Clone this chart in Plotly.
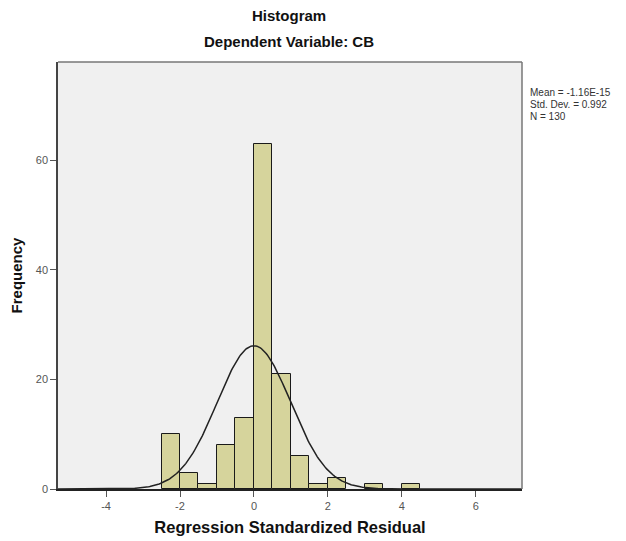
import numpy as np
import plotly.graph_objects as go

# ---- data ----
bin_left = [-2.5, -2.0, -1.5, -1.0, -0.5, 0.0, 0.5, 1.0, 1.5, 2.0, 3.0, 4.0]
counts = [10, 3, 1, 8, 13, 63, 21, 6, 1, 2, 1, 1]
bin_width = 0.5
mean_val = -1.16e-15
std_val = 0.992
n_val = 130
x_ticks = [-4, -2, 0, 2, 4, 6]
y_ticks = [0, 20, 40, 60]
stats_lines = ["Mean = -1.16E-15", "Std. Dev. = 0.992", "N = 130"]

x_range = [-5.3, 7.25]
y_range = [0, 77.9]

centers = [b + bin_width / 2 for b in bin_left]

# normal curve implied by mean / sd / N
xc = np.linspace(x_range[0], x_range[1], 400)
yc = n_val * bin_width / (std_val * np.sqrt(2 * np.pi)) * np.exp(-0.5 * ((xc - mean_val) / std_val) ** 2)

fig = go.Figure()
fig.add_trace(go.Bar(
    x=centers, y=counts, width=bin_width,
    marker=dict(color="#d6d49c", line=dict(color="#1a1a1a", width=1)),
    hoverinfo="skip", showlegend=False,
))
fig.add_trace(go.Scatter(
    x=xc, y=yc, mode="lines",
    line=dict(color="#222222", width=1.5),
    hoverinfo="skip", showlegend=False,
))

font_family = "Liberation Sans, Arial, sans-serif"

# page has an 8px body margin, so offsets are reduced by 8
PL, PT, PW, PH = 50, 54, 464, 427

fig.update_layout(
    width=618, height=533,
    margin=dict(l=PL, r=618 - PL - PW, t=PT, b=533 - PT - PH, autoexpand=False),
    paper_bgcolor="white",
    plot_bgcolor="#f0f0f0",
    bargap=0,
    font=dict(family=font_family, color="#222"),
    xaxis=dict(
        range=x_range, tickvals=x_ticks, ticktext=[str(t) for t in x_ticks],
        showgrid=False, zeroline=False,
        showline=True, linecolor="#222", linewidth=1.5,
        ticks="outside", ticklen=6, tickcolor="#555", tickwidth=1,
        tickfont=dict(size=11, color="#555", family=font_family),
        title=dict(text="<b>Regression Standardized Residual</b>",
                   font=dict(size=16.5, color="#111", family=font_family), standoff=10),
    ),
    yaxis=dict(
        range=y_range, tickvals=y_ticks, ticktext=[str(t) for t in y_ticks],
        showgrid=False, zeroline=False,
        showline=True, linecolor="#444", linewidth=1.5,
        ticks="outside", ticklen=6, tickcolor="#555", tickwidth=1,
        tickfont=dict(size=11, color="#555", family=font_family),
        title=dict(text="<b>Frequency</b>",
                   font=dict(size=15, color="#111", family=font_family), standoff=10),
    ),
)

# top / right frame lines
fig.add_shape(type="line", xref="paper", yref="paper", x0=0, x1=1, y0=1, y1=1,
              line=dict(color="#777", width=1.5))
fig.add_shape(type="line", xref="paper", yref="paper", x0=1, x1=1, y0=0, y1=1,
              line=dict(color="#777", width=1.5))

# titles (positions given in page pixels of the reference)
def py_to_paper(py):
    return (PT + PH - (py - 8)) / PH

fig.add_annotation(text="<b>Histogram</b>", xref="paper", yref="paper",
                   x=0.497, y=py_to_paper(15), showarrow=False,
                   font=dict(size=15, color="#111", family=font_family),
                   xanchor="center", yanchor="middle")
fig.add_annotation(text="<b>Dependent Variable: CB</b>", xref="paper", yref="paper",
                   x=0.497, y=py_to_paper(42), showarrow=False,
                   font=dict(size=15, color="#111", family=font_family),
                   xanchor="center", yanchor="middle")

# stats text
for i, line in enumerate(stats_lines):
    fig.add_annotation(text=line, xref="paper", yref="paper",
                       x=(529 - 8 - PL) / PW, y=py_to_paper(93 + 11.5 * i), showarrow=False,
                       font=dict(size=10, color="#333", family=font_family),
                       xanchor="left", yanchor="middle", align="left", borderpad=0)

fig.write_html("out.html")
